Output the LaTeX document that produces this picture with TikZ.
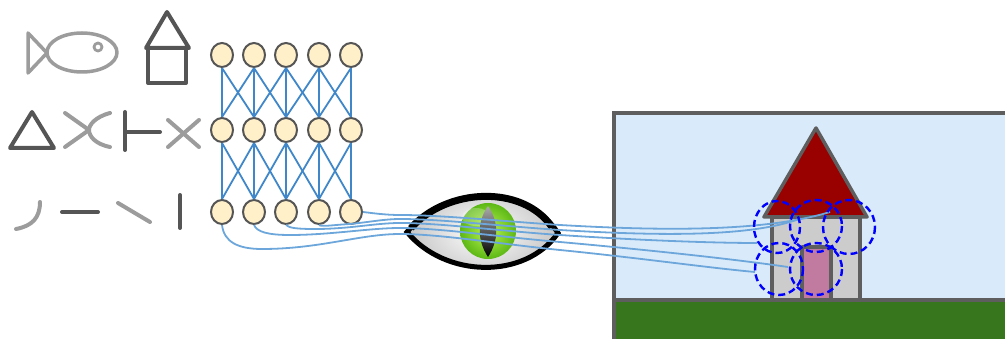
\documentclass[tikz,border=0pt]{standalone}
\usetikzlibrary{shapes.geometric}
\definecolor{iconlight}{HTML}{9C9C9C}
\definecolor{icondark}{HTML}{555555}
\definecolor{edgeblue}{HTML}{3F87C9}
\definecolor{rayblue}{HTML}{6CA6DA}
\definecolor{cream}{HTML}{FFF0C9}
\definecolor{rim}{HTML}{555555}
\definecolor{sky}{HTML}{D9EAFB}
\definecolor{grass}{HTML}{38761D}
\definecolor{wall}{HTML}{CCCCCC}
\definecolor{roof}{HTML}{990000}
\definecolor{door}{HTML}{C27BA0}
\definecolor{frame}{HTML}{5E5E5E}
\definecolor{irisin}{HTML}{BDF550}
\definecolor{irisout}{HTML}{5CB815}
\begin{document}
\begin{tikzpicture}[x=1pt,y=-1pt,
  light/.style={draw=iconlight,line width=4pt,line cap=round,line join=round},
  dark/.style={draw=icondark,line width=4pt,line cap=round,line join=round},
  neuron/.style={ellipse,draw=rim,line width=2pt,fill=cream,minimum width=22pt,minimum height=24pt,inner sep=0pt},
  synapse/.style={draw=edgeblue,line width=1.8pt},
  ray/.style={draw=rayblue,line width=1.8pt},
  field/.style={draw=blue,line width=2.4pt,dash pattern=on 7pt off 4pt},
  outline/.style={draw=frame,line width=3.5pt,line join=round}]
\useasboundingbox (0,0) rectangle (1005,339);
\clip (0,0) rectangle (1005,339);

% ---- pictograms: simple strokes, parts and whole shapes ----
% fish
\draw[light,line width=3.5pt] (28,33) -- (47,53) -- (28,73) -- cycle;
\draw[light,line width=3.5pt] (82,52.5) ellipse (35 and 19.5);
\draw[light,line width=2.8pt] (98,47) circle (4);
% house
\draw[dark] (146,48) -- (167,12) -- (189,48) -- cycle;
\draw[dark] (148,48) rectangle (186,83);
% middle row
\draw[dark] (32,112) -- (54,148) -- (10,148) -- cycle;
\draw[light] (65,113) -- (89,130) -- (65,147);
\draw[light] (110,113) .. controls (95,117) and (89,125) .. (89,130)
  .. controls (89,136) and (95,144) .. (110,147);
\draw[dark] (125,112) -- (125,150);
\draw[dark] (125,132) -- (160,132);
\draw[light] (168,120) -- (199,147);
\draw[light] (168,147) -- (199,120);
% bottom row
\draw[light] (40,202) .. controls (40,218) and (32,226) .. (16,229);
\draw[dark] (62,212) -- (98,212);
\draw[light] (118,203) -- (150,222);
\draw[dark] (180,195) -- (180,228);

% ---- scene ----
\path[fill=sky,draw=frame,line width=4pt] (614,113) rectangle (1030,360);
\path[fill=grass,draw=frame,line width=3.5pt] (614,300) rectangle (1030,360);
\path[outline,fill=wall] (772,217) rectangle (860,300);
\path[outline,fill=roof] (764,217) -- (816,128) -- (867,217) -- cycle;
\path[outline,fill=door] (802,247) rectangle (831,300);

% ---- eye ----
\shade[inner color=white,outer color=gray!45]
  (407,232) .. controls (445,187) and (525,183) .. (558,233)
  .. controls (525,280) and (445,278) .. (407,232) -- cycle;
\shade[inner color=irisin,outer color=irisout] (488,231) circle (28);
\fill[white,opacity=0.25] (476,217) ellipse (14 and 9);
\shade[top color=gray!65,bottom color=black]
  (488,206) .. controls (477,222) and (477,240) .. (488,257)
  .. controls (499,240) and (499,222) .. (488,206) -- cycle;
\draw[black,line width=5pt,line join=miter]
  (407,232) .. controls (445,187) and (525,183) .. (558,233)
  .. controls (525,280) and (445,278) .. (407,232) -- cycle;
\draw[black,line width=7pt]
  (411,228) .. controls (447,188) and (522,184) .. (552,227);

% ---- network ----
\foreach \c/\x in {1/222,2/254,3/286,4/319,5/351}{
  \foreach \r/\y in {1/55,2/130,3/212}{
    \node[neuron] (n\r\c) at (\x,\y) {};
  }
}
\foreach \r/\s in {1/2,2/3}{
  \foreach \i in {1,...,5}{
    \foreach \j in {1,...,5}{
      \pgfmathtruncatemacro\gap{abs(\i-\j)}
      \ifnum\gap<2
        \draw[synapse] (n\r\i.south) -- (n\s\j.north);
      \fi
    }
  }
}

% ---- rays from the bottom layer to the receptive fields ----
\coordinate (fa) at (830,212);
\coordinate (fb) at (799,219);
\coordinate (fc) at (757,243);
\coordinate (fd) at (788,267);
\coordinate (fe) at (755,272);
\draw[ray] (n31.south) .. controls (224,242) and (238,249) .. (262,249)
  .. controls (320,249) and (360,234) .. (400,234)
  .. controls (440,234) and (500,244) .. (560,250)
  .. controls (640,258) and (710,268) .. (fe);
\draw[ray] (n32.south) .. controls (257,232) and (268,235) .. (290,235)
  .. controls (330,235) and (370,228) .. (400,228)
  .. controls (440,228) and (500,237) .. (560,242)
  .. controls (660,251) and (740,260) .. (fd);
\draw[ray] (n33.south) .. controls (289,228) and (297,229) .. (315,229)
  .. controls (350,229) and (375,223) .. (400,223)
  .. controls (440,223) and (500,231) .. (560,235)
  .. controls (650,241) and (720,243) .. (fc);
\draw[ray] (n34.south) .. controls (322,227) and (332,225) .. (350,224)
  .. controls (370,222) and (385,219) .. (400,219)
  .. controls (440,219) and (500,226) .. (560,230)
  .. controls (660,236) and (750,237) .. (fb);
\draw[ray] (n35.east) .. controls (372,213) and (385,215) .. (400,215)
  .. controls (440,215) and (500,221) .. (560,225)
  .. controls (680,232) and (770,230) .. (fa);

% ---- receptive fields ----
\draw[field] (777,227) ellipse (23 and 26);
\draw[field] (816,226) ellipse (26 and 26);
\draw[field] (849,227) ellipse (26 and 27);
\draw[field] (779,269) ellipse (24 and 26);
\draw[field] (816,269) ellipse (26 and 26);
\end{tikzpicture}
\end{document}
